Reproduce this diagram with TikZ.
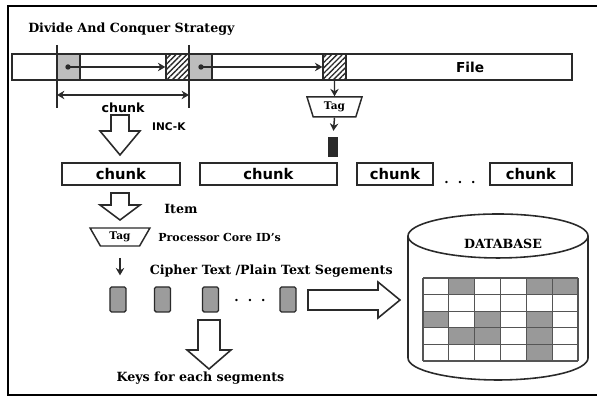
\documentclass[tikz,border=0pt]{standalone}
\usepackage{fontspec}
\setmainfont{DejaVu Serif}
\setsansfont{DejaVu Sans}
\usetikzlibrary{arrows.meta,shapes.geometric,patterns.meta}
\definecolor{linegray}{HTML}{2A2A2A}
\definecolor{headgray}{HTML}{BDBDBD}
\definecolor{seggray}{HTML}{9C9C9C}
\definecolor{cellgray}{HTML}{999999}

% hollow down arrow: x, top, base of head, tip, half shaft, half head
\newcommand{\fatdown}[6]{%
  \draw[fat] (#1-#5,#2) -- (#1+#5,#2) -- (#1+#5,#3) -- (#1+#6,#3)
        -- (#1,#4) -- (#1-#6,#3) -- (#1-#5,#3) -- cycle;}

\begin{document}
\begin{tikzpicture}[>={Stealth[length=7pt,width=8pt]},
        fat/.style={draw=linegray,line width=1.5pt,fill=white,line join=miter},
        serif/.style={font=\fontsize{12}{14}\selectfont\bfseries,inner sep=1pt},
        chk/.style={rectangle,draw=linegray,line width=1.4pt,
                    minimum height=0.733cm,inner sep=0pt,
                    font=\sffamily\bfseries\fontsize{14}{16}\selectfont},
        headbox/.style={rectangle,draw=linegray,line width=1.2pt,fill=headgray,
                    minimum width=0.767cm,minimum height=0.867cm,inner sep=0pt},
        hatchbox/.style={rectangle,draw=linegray,line width=1.2pt,
                    pattern={Lines[angle=45,distance=3.6pt,line width=1.3pt]},
                    pattern color=linegray,
                    minimum width=0.767cm,minimum height=0.867cm,inner sep=0pt},
        dot/.style={circle,fill=linegray,inner sep=0pt,minimum size=0.18cm},
        tagbox/.style={trapezium,draw=linegray,line width=1.4pt,
                    shape border rotate=180,trapezium stretches=true,inner sep=0pt,
                    font=\fontsize{10}{12}\selectfont\bfseries},
        seg/.style={rectangle,draw=linegray,line width=1.2pt,fill=seggray,
                    rounded corners=1.5pt,minimum width=0.533cm,
                    minimum height=0.833cm,inner sep=0pt}]
      \useasboundingbox (0,0) rectangle (19.9,13.233);
      %% -- frame (right side cut off) ---------------------------
      \draw[line width=1.6pt] (19.9,13.03) -- (0.267,13.03) -- (0.267,0.067) -- (19.9,0.067);
      \node[serif,anchor=west] (title) at (0.9,12.25) {Divide And Conquer Strategy};
      %% -- the file bar ------------------------------------------
      \node[rectangle,draw=linegray,line width=1.4pt,minimum width=18.667cm,
            minimum height=0.867cm] (bar) at (9.733,11.0) {};
      \node[font=\sffamily\bfseries\fontsize{13}{15}\selectfont] (file) at (15.67,10.98) {File};
      \node[headbox]  (h1) at (2.283,11.0) {};
      \node[hatchbox] (x1) at (5.917,11.0) {};
      \node[headbox]  (h2) at (6.683,11.0) {};
      \node[hatchbox] (x2) at (11.15,11.0) {};
      \node[dot] (d1) at (2.267,11.0) {};
      \node[dot] (d2) at (6.7,11.0) {};
      \draw[->,line width=1.2pt,draw=linegray] (d1.center) -- (x1.west);
      \draw[->,line width=1.2pt,draw=linegray] (d2.center) -- (x2.west);
      %% -- chunk boundaries --------------------------------------
      \draw[line width=1.4pt,draw=linegray] (1.9,11.733) -- (1.9,9.633);
      \draw[line width=1.4pt,draw=linegray] (6.3,11.733) -- (6.3,9.633);
      \coordinate (c1) at (1.9,10.067);
      \coordinate (c2) at (6.3,10.067);
      \draw[<->,line width=1.4pt,draw=linegray] (c1) -- (c2);
      \node[font=\sffamily\bfseries\fontsize{12}{14}\selectfont] (clbl) at (4.1,9.633) {chunk};
      %% -- tag on the right --------------------------------------
      \node[tagbox,minimum width=1.833cm,minimum height=0.667cm,
            trapezium angle=73] (tag1) at (11.15,9.667) {Tag};
      \node[rectangle,fill=linegray,minimum width=0.33cm,minimum height=0.667cm,
            inner sep=0pt] (tok) at (11.1,8.333) {};
      \draw[->,line width=1.4pt,draw=linegray] (x2.south) -- (tag1.north);
      \draw[->,line width=1.4pt,draw=linegray,shorten >=0.2cm] (tag1.south) -- (tok.north);
      %% -- INC-K ---------------------------------------------------
      \fatdown{4.0}{9.4}{8.867}{8.067}{0.3}{0.667}
      \node[font=\sffamily\bfseries\fontsize{10}{12}\selectfont,anchor=west] (inck) at (4.95,9.0) {INC-K};
      %% -- row of chunks ------------------------------------------
      \node[chk,minimum width=3.933cm] (k1) at (4.033,7.433) {chunk};
      \node[chk,minimum width=4.567cm] (k2) at (8.95,7.433)  {chunk};
      \node[chk,minimum width=2.533cm] (k3) at (13.167,7.433) {chunk};
      \node[font=\bfseries\fontsize{12}{14}\selectfont] (kdots) at (15.333,7.15) {.\hspace{0.3cm}.\hspace{0.3cm}.};
      \node[chk,minimum width=2.733cm] (k4) at (17.7,7.433) {chunk};
      %% -- Item / Tag ---------------------------------------------
      \fatdown{4.0}{6.8}{6.4}{5.9}{0.3}{0.667}
      \node[serif,anchor=west] (item) at (5.433,6.267) {Item};
      \node[tagbox,minimum width=2.0cm,minimum height=0.6cm,
            trapezium angle=61] (tag2) at (4.0,5.333) {Tag};
      \node[serif,font=\fontsize{10.5}{12}\selectfont\bfseries,anchor=west] (proc)
            at (5.233,5.333) {Processor Core ID's};
      %% -- segments -------------------------------------------------
      \node[serif,anchor=west] (ciph) at (4.95,4.2) {Cipher Text /Plain Text Segements};
      \node[seg] (s1) at (3.933,3.25) {};
      \node[seg] (s2) at (5.417,3.25) {};
      \node[seg] (s3) at (7.017,3.25) {};
      \node[font=\bfseries\fontsize{12}{14}\selectfont] (sdots) at (8.333,3.2) {.\hspace{0.3cm}.\hspace{0.3cm}.};
      \node[seg] (s4) at (9.6,3.25) {};
      \draw[->,line width=1.4pt,draw=linegray,shorten <=0.367cm,shorten >=0.367cm]
            (tag2.south) -- (tag2.south |- s1.north);
      %% -- hollow arrows to keys and database ---------------------
      \fatdown{6.967}{2.567}{1.567}{0.933}{0.367}{0.733}
      \node[serif] (keys) at (6.683,0.633) {Keys for each segments};
      \draw[fat] (10.267,3.567) -- (12.6,3.567) -- (12.6,3.833) -- (13.333,3.233)
            -- (12.6,2.633) -- (12.6,2.9) -- (10.267,2.9) -- cycle;
      %% -- database -------------------------------------------------
      \draw[line width=1.5pt,draw=linegray] (13.6,5.367) -- (13.6,1.3)
            arc[start angle=180,end angle=360,x radius=3,y radius=0.733] -- (19.6,5.367);
      \draw[line width=1.5pt,draw=linegray] (16.6,5.367) ellipse[x radius=3,y radius=0.733];
      \node[serif] (db) at (16.767,5.1) {DATABASE};
      \foreach \r/\c in {1/2,1/5,1/6,3/1,3/3,3/5,4/2,4/3,4/5,5/5}
        \fill[cellgray] (14.1+\c*0.861-0.861,3.967-\r*0.5533) rectangle ++(0.861,0.5533);
      \foreach \i in {0,...,6}
        \draw[line width=1pt,draw=linegray!80] (14.1+\i*0.861,1.2) -- ++(0,2.767);
      \foreach \j in {0,...,5}
        \draw[line width=1pt,draw=linegray!80] (14.1,1.2+\j*0.5533) -- ++(5.167,0);
    \end{tikzpicture}
\end{document}
